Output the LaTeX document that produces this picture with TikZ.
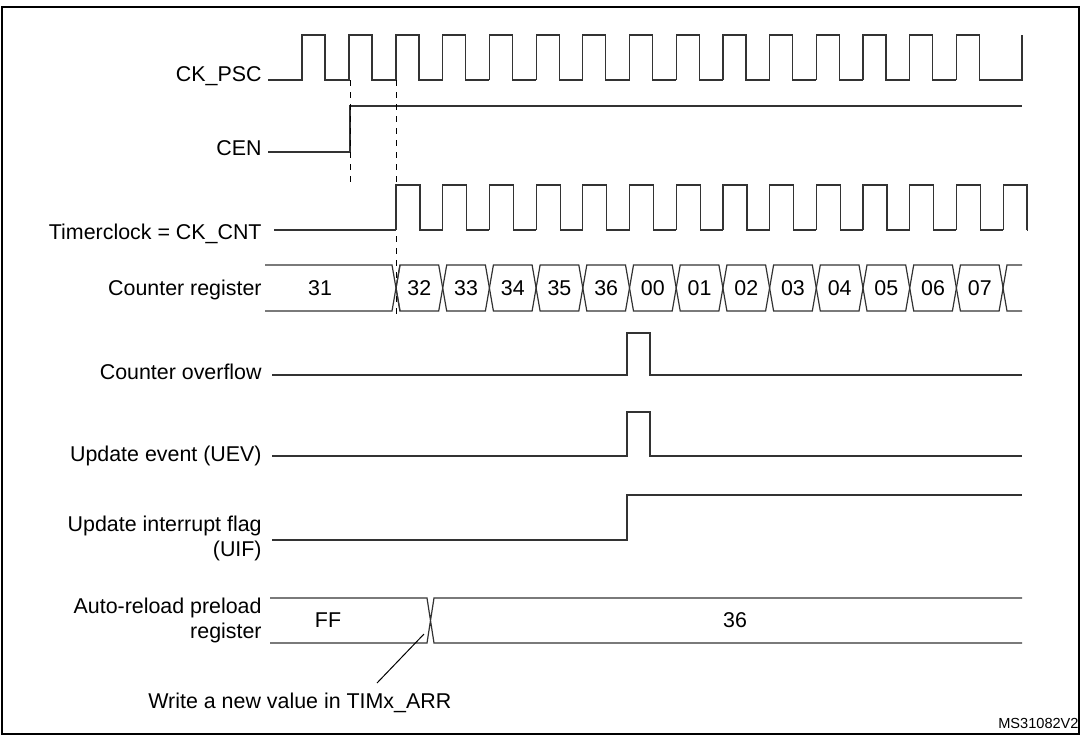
\documentclass[tikz,border=0pt]{standalone}
\usepackage{fontspec}
\setmainfont{Liberation Sans}
\usetikzlibrary{positioning,calc}
\tikzset{sig/.style={draw=black!80, line width=0.6pt}}
\tikzstyle{lbl}=[anchor=east, inner sep=0pt, font=\fontsize{10.7}{12.5}\selectfont, align=right]
\tikzstyle{val}=[inner sep=0pt, font=\fontsize{10.7}{12.5}\selectfont]

\begin{document}
\begin{tikzpicture}[x=0.5pt, y=-0.5pt]
\useasboundingbox (0,0) rectangle (1081,735);
\draw[line width=1pt] (2,7) rectangle (1079,734);
% labels
\node[lbl] (psc) at (262,76) {CK\_PSC};
\node[lbl] (cen) at (262,148) {CEN};
\node[lbl] (cnt) at (262,234) {Timerclock = CK\_CNT};
\node[lbl] (reg) at (262,290) {Counter register};
\node[lbl] (ovf) at (262,372) {Counter overflow};
\node[lbl] (uev) at (262,456) {Update event (UEV)};
\node[lbl] (uif) at (262,538) {Update interrupt flag\\(UIF)};
\node[lbl] (arr) at (262,620) {Auto-reload preload\\register};
% CK_PSC
\draw[sig] (268,80) -- (302,80) -- (302,35) -- (325,35) -- (325,80) -- (349,80) -- (349,35) -- (372,35) -- (372,80) -- (396,80);
\foreach \k in {0,...,12}{
  \pgfmathsetmacro\xa{396+46.7*\k}
  \pgfmathsetmacro\xb{\xa+23}
  \pgfmathsetmacro\xc{\xa+46.7}
  \draw[sig] (\xa,80) -- (\xa,35) -- (\xb,35) -- (\xb,80) -- (\xc,80);
}
\draw[sig] (1002,80) -- (1022,80) -- (1022,35);
% CEN
\draw[sig] (268,152) -- (350,152) -- (350,106) -- (1022,106);
\draw[dashed, line width=0.5pt] (350,80) -- (350,182);
\draw[dashed, line width=0.5pt] (396,80) -- (396,314);
% Timerclock
\draw[sig] (274,230) -- (396,230);
\foreach \k in {0,...,13}{
  \pgfmathsetmacro\xa{396+46.7*\k}
  \pgfmathsetmacro\xb{\xa+24}
  \pgfmathsetmacro\xc{min(\xa+46.7,1027)}
  \draw[sig] (\xa,230) -- (\xa,185) -- (\xb,185) -- (\xb,230) -- (\xc,230);
}
\draw[sig] (1027,230) -- (1027,185);
% Counter register
\draw[sig] (265,265) -- (392,265) -- (400,311) (265,311) -- (392,311) -- (400,265);
\foreach \v [count=\k from 0] in {32,33,34,35,36,00,01,02,03,04,05,06,07}{
  \pgfmathsetmacro\xa{396+46.7*\k}
  \pgfmathsetmacro\xb{\xa+46.7}
  \draw[sig] (\xa,288) -- (\xa+4,265) -- (\xb-4,265) -- (\xb,288) -- (\xb-4,311) -- (\xa+4,311) -- cycle;
  \node[val] (c\k) at ({(\xa+\xb)/2},288) {\v};
}
\draw[sig] (1022,265) -- (1007,265) -- (1003,288) -- (1007,311) -- (1022,311);
\node[val] (c31) at (320,288) {31};
% overflow, UEV, UIF
\draw[sig] (272,375) -- (627,375) -- (627,333) -- (650,333) -- (650,375) -- (1022,375);
\draw[sig] (272,456) -- (627,456) -- (627,412) -- (650,412) -- (650,456) -- (1022,456);
\draw[sig] (272,540) -- (627,540) -- (627,495) -- (1022,495);
% Auto-reload
\draw[sig] (270,598) -- (427,598) -- (434,643) -- (1022,643) (270,643) -- (427,643) -- (434,598) -- (1022,598);
\node[val] (ff) at (328,620) {FF};
\node[val] (v36) at (735,620) {36};
\node[val, anchor=west] (note) at (148,703) {Write a new value in TIMx\_ARR};
\coordinate (wr) at (424,634);
\draw[line width=0.5pt] (377,683) -- (wr);
\node[val, anchor=south east, font=\fontsize{7.3}{8}\selectfont] (ms) at (1079,729) {MS31082V2};
\end{tikzpicture}
\end{document}
